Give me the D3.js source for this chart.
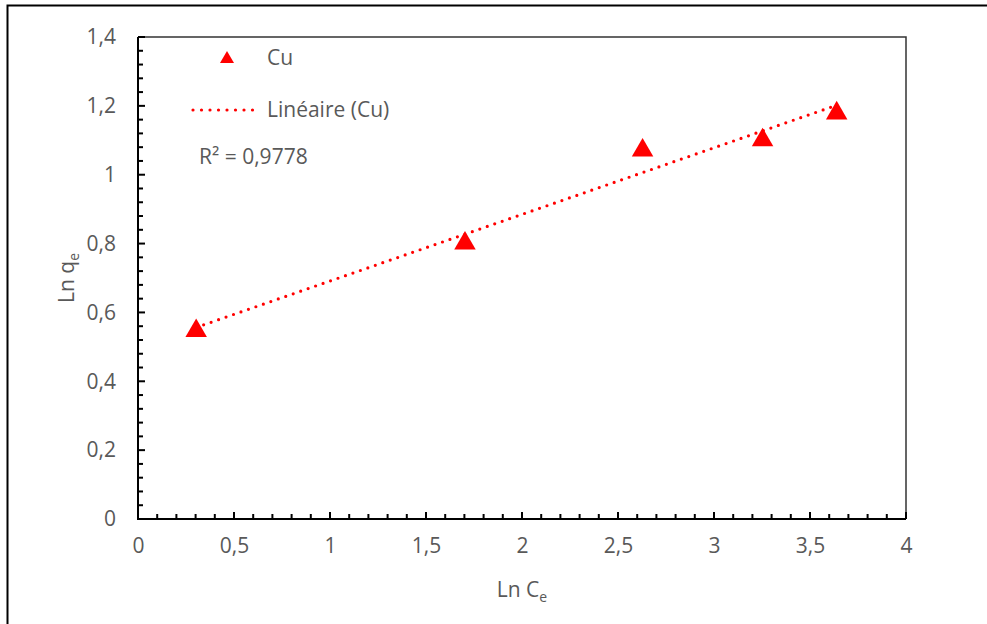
<!DOCTYPE html>
<html>
<head>
<meta charset="utf-8">
<script src="https://cdn.jsdelivr.net/npm/d3@7"></script>
<style>
  body { margin: 0; background: #fff; }
  svg { display: block; }
</style>
</head>
<body>
<svg id="chart" width="987" height="624"></svg>
<script>
  "use strict";

  // valeurs
  var lnCe = [0.303, 1.703, 2.628, 3.253, 3.639];
  var lnQe = [0.551, 0.805, 1.075, 1.105, 1.183];
  var xTicks = [0, 0.5, 1, 1.5, 2, 2.5, 3, 3.5, 4];
  var yTicks = [0, 0.2, 0.4, 0.6, 0.8, 1, 1.2, 1.4];
  var r2Label = 'R² = 0,9778';

  var opts = {
    fontFamily: "'Open Sans', sans-serif",
    fontSize: 21,
    textColor: '#595959',
    red: '#ff0000'
  };

  var svg = d3.select('#chart');
  var margin = { left: 138, top: 37, right: 987 - 906, bottom: 624 - 519 };
  var width = 987 - margin.left - margin.right,
    height = 624 - margin.top - margin.bottom;

  // cadre extérieur
  svg.append('rect')
    .attr('x', 7.5).attr('y', 5.5)
    .attr('width', 1100).attr('height', 800)
    .attr('fill', 'none')
    .attr('stroke', '#000')
    .attr('stroke-width', 2);

  var g = svg.append('g')
    .attr('transform', 'translate(' + margin.left + ',' + margin.top + ')');

  var x = d3.scaleLinear().domain([0, 4]).range([0, width]);
  var y = d3.scaleLinear().domain([0, 1.4]).range([height, 0]);

  var fmt = function (d) { return String(+d.toFixed(1)).replace('.', ','); };

  // bord du haut et de droite
  g.append('path')
    .attr('d', 'M0,0H' + width + 'V' + height)
    .attr('fill', 'none')
    .attr('stroke', '#333')
    .attr('stroke-width', 1.5);

  // graduations secondaires
  var xMinor = d3.range(0, 41).map(function (i) { return i / 10; });
  var yMinor = d3.range(0, 36).map(function (i) { return i * 0.04; });

  g.append('g').selectAll('line')
    .data(xMinor)
    .enter().append('line')
    .attr('x1', function (d) { return x(d); })
    .attr('x2', function (d) { return x(d); })
    .attr('y1', height)
    .attr('y2', function (d, i) { return height - (i % 5 === 0 ? 7 : 5); })
    .attr('stroke', '#000')
    .attr('stroke-width', 2);

  g.append('g').selectAll('line')
    .data(yMinor)
    .enter().append('line')
    .attr('y1', function (d) { return y(d); })
    .attr('y2', function (d) { return y(d); })
    .attr('x1', 0)
    .attr('x2', function (d, i) { return i % 5 === 0 ? 7 : 5; })
    .attr('stroke', '#000')
    .attr('stroke-width', 2);

  // axes
  var xAxis = g.append('g')
    .attr('transform', 'translate(0,' + height + ')')
    .call(d3.axisBottom(x).tickValues(xTicks).tickFormat(fmt).tickSize(0).tickPadding(19));
  var yAxis = g.append('g')
    .call(d3.axisLeft(y).tickValues(yTicks).tickFormat(fmt).tickSize(0).tickPadding(22));

  [xAxis, yAxis].forEach(function (a) {
    a.select('.domain').attr('stroke', '#000').attr('stroke-width', 2);
    a.selectAll('text')
      .attr('font-family', opts.fontFamily)
      .attr('font-size', opts.fontSize)
      .attr('fill', opts.textColor);
  });
  yAxis.select('.domain').attr('d', 'M0,' + (height + 1) + 'V0');
  xAxis.select('.domain').attr('d', 'M-1,0H' + width);

  // droite de régression
  var mx = d3.mean(lnCe), my = d3.mean(lnQe);
  var sxy = d3.sum(lnCe, function (v, i) { return (v - mx) * (lnQe[i] - my); });
  var sxx = d3.sum(lnCe, function (v) { return (v - mx) * (v - mx); });
  var slope = sxy / sxx, icpt = my - slope * mx;
  var xr = d3.extent(lnCe);

  g.append('line')
    .attr('x1', x(xr[0])).attr('y1', y(icpt + slope * xr[0]))
    .attr('x2', x(xr[1])).attr('y2', y(icpt + slope * xr[1]))
    .attr('stroke', opts.red)
    .attr('stroke-width', 3.2)
    .attr('stroke-linecap', 'round')
    .attr('stroke-dasharray', '0 7.9');

  // points
  var tri = d3.symbol().type(d3.symbolTriangle).size(200);
  g.append('g').selectAll('path')
    .data(lnCe)
    .enter().append('path')
    .attr('d', tri)
    .attr('transform', function (d, i) { return 'translate(' + x(d) + ',' + (y(lnQe[i]) + 1.5) + ')'; })
    .attr('fill', opts.red);

  // légende
  var leg = svg.append('g')
    .attr('font-family', opts.fontFamily)
    .attr('font-size', opts.fontSize)
    .attr('fill', opts.textColor);
  leg.append('path')
    .attr('d', d3.symbol().type(d3.symbolTriangle).size(85))
    .attr('transform', 'translate(227,59)')
    .attr('fill', opts.red);
  leg.append('text').attr('x', 267).attr('y', 65).text('Cu');
  leg.append('line')
    .attr('x1', 193).attr('x2', 261).attr('y1', 110).attr('y2', 110)
    .attr('stroke', opts.red)
    .attr('stroke-width', 3.2)
    .attr('stroke-linecap', 'round')
    .attr('stroke-dasharray', '0 8.5');
  leg.append('text').attr('x', 267).attr('y', 117).text('Linéaire (Cu)');
  leg.append('text').attr('x', 199).attr('y', 164).text(r2Label);

  // titres des axes
  var xt = svg.append('text')
    .attr('x', 522).attr('y', 597)
    .attr('text-anchor', 'middle')
    .attr('font-family', opts.fontFamily)
    .attr('font-size', opts.fontSize)
    .attr('fill', opts.textColor);
  xt.append('tspan').text('Ln C');
  xt.append('tspan').attr('font-size', 14).attr('dy', 5).text('e');

  var yt = svg.append('text')
    .attr('transform', 'translate(74,278) rotate(-90)')
    .attr('text-anchor', 'middle')
    .attr('font-family', opts.fontFamily)
    .attr('font-size', opts.fontSize)
    .attr('fill', opts.textColor);
  yt.append('tspan').text('Ln q');
  yt.append('tspan').attr('font-size', 14).attr('dy', 5).text('e');
</script>
</body>
</html>
